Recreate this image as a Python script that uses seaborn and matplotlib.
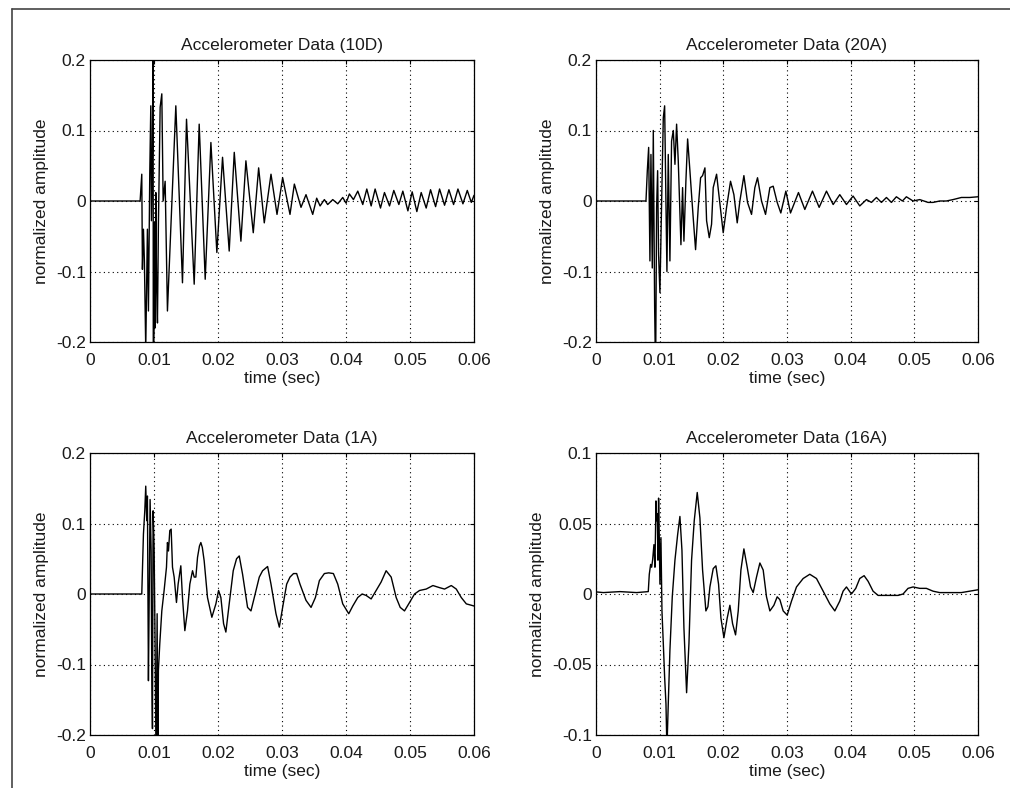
import matplotlib
matplotlib.use("Agg")
import matplotlib.pyplot as plt
from matplotlib.lines import Line2D
from matplotlib.ticker import FuncFormatter, FixedLocator
import seaborn as sns
import pandas as pd

# ---------------- data (time in ms, normalized amplitude) ----------------
titles = ["Accelerometer Data (10D)", "Accelerometer Data (20A)",
          "Accelerometer Data (1A)", "Accelerometer Data (16A)"]

t_10d = [0, 7.83, 8.09, 8.19, 8.35, 8.50, 8.71, 8.97, 9.13, 9.34, 9.50, 9.60, 9.76,
         9.86, 9.89, 10.02, 10.10, 10.18, 10.28, 10.40, 10.54, 10.69, 10.96, 11.22, 11.43,
         11.74, 12.10,
         13.41, 14.45, 15.08, 16.28, 17.06, 18.00, 18.89, 19.82, 20.71, 21.75, 22.54,
         23.58, 24.36, 25.51, 26.35, 27.23, 28.28, 29.22, 30.10, 31.25, 31.93, 32.97,
         33.75, 34.80, 35.42, 35.95, 36.62, 37.14, 37.93, 38.71, 39.49, 40.01, 40.53,
         41.16, 41.84, 42.62, 43.25, 43.93, 44.55, 45.39, 46.01, 46.80, 47.47, 48.26,
         48.88, 49.67, 50.34, 51.07, 51.75, 52.53, 53.21, 54.00, 54.62, 55.40, 56.08,
         56.81, 57.49, 58.27, 58.95, 59.58, 60.00]
a_10d = [0, 0, 0.038, -0.097, -0.040, -0.085, -0.21, -0.040, -0.156, 0.040, 0.135, -0.028,
         0.076, 0.25, -0.25, -0.175, -0.030, -0.180, 0.012, -0.120, -0.173, -0.033, 0.133,
         0.152, 0.0, 0.028, -0.156,
         0.135, -0.116, 0.116, -0.118, 0.109, -0.111, 0.083, -0.073, 0.062, -0.071, 0.069,
         -0.057, 0.057, -0.045, 0.047, -0.031, 0.038, -0.019, 0.033, -0.019, 0.024, -0.009,
         0.009, -0.019, 0.004, -0.007, 0.002, -0.005, 0.002, -0.004, 0.005, -0.003, 0.010,
         0.002, 0.014, -0.005, 0.017, -0.007, 0.017, -0.010, 0.012, -0.007, 0.015, -0.005,
         0.014, -0.014, 0.013, -0.015, 0.012, -0.010, 0.016, -0.008, 0.017, -0.006, 0.016,
         -0.005, 0.017, -0.004, 0.015, -0.002, 0.008]

t_20a = [0, 7.85, 8.06, 8.27, 8.47, 8.63, 8.84, 9.00, 9.21, 9.36, 9.52, 9.68, 9.83, 10.04,
         10.31, 10.57, 10.78, 10.99, 11.14, 11.35, 11.61, 11.87, 12.14, 12.40, 12.66, 12.92,
         13.34, 13.60, 13.81, 14.12, 14.39, 14.75, 15.01, 15.27, 15.64, 16.06, 16.43, 16.74,
         17.11, 17.37, 17.79, 18.15, 18.41, 18.94, 19.30, 19.98, 20.51, 21.13, 21.66, 22.18,
         22.60, 23.23, 23.80, 24.43, 24.95, 25.37, 26.00, 26.63, 27.31, 27.83, 28.46, 29.03,
         29.82, 30.55, 31.80, 32.80, 34.00, 35.05, 36.20, 37.25, 38.29, 39.34, 40.38, 41.43,
         42.48, 43.26, 44.05, 44.83, 45.62, 46.40, 47.18, 48.13, 48.75, 49.80, 50.85, 52.15,
         52.94, 53.98, 55.03, 56.08, 57.39, 58.69, 60.00]
a_20a = [0, 0, 0.043, 0.076, -0.085, 0.066, -0.095, 0.100, -0.150, -0.25, -0.009, 0.043,
         -0.076, -0.130, 0.0, 0.118, 0.135, -0.005, -0.100, 0.066, -0.085, 0.085, 0.100, 0.052,
         0.109, 0.057, -0.062, 0.019, -0.057, 0.028, 0.088, 0.043, 0.009, -0.024, -0.069,
         -0.009, 0.033, 0.036, 0.047, -0.028, -0.052, -0.033, 0.019, 0.038, 0.009, -0.045,
         -0.009, 0.028, 0.009, -0.031, 0.0, 0.036, -0.002, -0.019, 0.019, 0.033, 0.0, -0.019,
         0.019, 0.021, -0.002, -0.017, 0.014, -0.017, 0.012, -0.012, 0.014, -0.009, 0.014,
         -0.005, 0.009, -0.005, 0.007, -0.007, 0.002, -0.002, 0.005, -0.002, 0.005, -0.002,
         0.006, 0.0, 0.006, 0.0, 0.002, -0.002, -0.002, 0.0, 0.0, 0.002, 0.005, 0.005, 0.006]

t_1a = [0, 8.09, 8.35, 8.56, 8.71, 8.87, 8.97, 9.13, 9.23, 9.39, 9.55, 9.65, 9.76, 9.86,
        10.02, 10.17, 10.33, 10.49, 10.59, 10.69, 10.90, 11.22, 11.58, 11.95, 12.10, 12.26,
        12.47, 12.68, 12.89, 13.15, 13.51, 13.77, 14.19, 14.45, 14.82, 15.23, 15.60, 16.02,
        16.28, 16.54, 16.80, 17.10, 17.32, 17.55, 17.84, 18.36, 19.04, 19.67, 20.09, 20.45,
        20.87, 21.23, 21.75, 22.38, 22.90, 23.32, 23.84, 24.62, 25.15, 25.67, 26.45, 26.97,
        27.75, 28.28, 29.06, 29.58, 30.10, 30.73, 31.25, 31.80, 32.29, 32.81, 33.75, 34.54,
        35.22, 35.84, 36.62, 37.30, 38.03, 38.71, 39.49, 40.43, 41.06, 41.84, 42.52, 43.14,
        43.93, 44.71, 45.49, 46.27, 47.06, 47.84, 48.47, 49.14, 49.93, 50.71, 51.49, 52.53,
        53.58, 54.62, 55.40, 56.45, 57.23, 58.01, 58.80, 60.00]
a_1a = [0, 0, 0.085, 0.118, 0.153, 0.104, 0.139, -0.123, -0.024, 0.134, 0.061, -0.108,
        -0.191, 0.118, 0.064, -0.071, -0.25, -0.028, -0.25, -0.108, -0.071, -0.024, 0.005,
        0.038, 0.073, 0.061, 0.090, 0.092, 0.038, 0.024, -0.012, 0.014, 0.040, -0.005, -0.052,
        -0.024, 0.014, 0.033, 0.024, 0.024, 0.052, 0.068, 0.073, 0.066, 0.047, -0.005, -0.033,
        -0.014, 0.005, -0.005, -0.042, -0.054, -0.014, 0.033, 0.050, 0.054, 0.028, -0.019,
        -0.024, -0.005, 0.024, 0.033, 0.039, 0.014, -0.028, -0.047, -0.019, 0.014, 0.024,
        0.029, 0.029, 0.014, -0.009, -0.019, -0.005, 0.019, 0.029, 0.030, 0.029, 0.014,
        -0.014, -0.028, -0.017, -0.005, 0.0, -0.002, -0.007, 0.005, 0.017, 0.033, 0.024,
        -0.005, -0.019, -0.024, -0.012, 0.0, 0.005, 0.007, 0.012, 0.009, 0.007, 0.012, 0.007,
        -0.005, -0.014, -0.017]

t_16a = [0, 1.15, 3.77, 6.38, 8.21, 8.37, 8.58, 8.74, 8.89, 9.10, 9.26, 9.42, 9.52, 9.63,
         9.73, 9.83, 9.94, 10.04, 10.20, 10.36, 10.57, 10.78, 10.99, 11.14, 11.35, 11.61,
         11.98, 12.40, 12.82, 13.18, 13.50, 13.81, 14.23, 14.60, 15.01, 15.43, 15.90, 16.32,
         16.74, 17.26, 17.58, 17.89, 18.41, 18.83, 19.25, 19.62, 20.09, 20.61, 21.03, 21.45,
         21.92, 22.34, 22.76, 23.23, 23.75, 24.27, 24.69, 25.21, 25.74, 26.26, 26.78, 27.31,
         27.94, 28.46, 28.88, 29.40, 30.03, 30.71, 31.49, 32.54, 33.58, 34.63, 35.68, 36.72,
         37.51, 38.29, 38.81, 39.34, 40.12, 40.80, 41.43, 42.11, 42.74, 43.52, 44.31, 46.14,
         47.45, 48.23, 49.01, 49.80, 50.85, 51.89, 52.94, 53.98, 55.03, 56.08, 57.39, 58.69,
         60.00]
a_16a = [0.0015, 0.001, 0.0017, 0.001, 0.0017, 0.014, 0.021, 0.019, 0.024, 0.035, 0.019,
         0.066, 0.052, 0.057, 0.024, 0.068, 0.040, 0.007, 0.040, -0.012, -0.035, -0.059,
         -0.078, -0.11, -0.078, -0.040, -0.002, 0.024, 0.042, 0.055, 0.031, -0.024, -0.070,
         -0.035, 0.024, 0.052, 0.072, 0.054, 0.017, -0.012, -0.009, 0.005, 0.018, 0.020,
         0.007, -0.017, -0.031, -0.017, -0.008, -0.021, -0.029, -0.012, 0.017, 0.032, 0.019,
         0.005, 0.001, 0.012, 0.022, 0.017, -0.002, -0.012, -0.008, -0.002, -0.004, -0.012,
         -0.015, -0.005, 0.005, 0.011, 0.014, 0.011, 0.002, -0.007, -0.012, -0.005, 0.002,
         0.005, 0.0, 0.004, 0.011, 0.013, 0.009, 0.002, -0.001, -0.001, -0.001, 0.0, 0.004,
         0.005, 0.004, 0.004, 0.002, 0.001, 0.001, 0.001, 0.001, 0.002, 0.003]

series_t = [t_10d, t_20a, t_1a, t_16a]
series_a = [a_10d, a_20a, a_1a, a_16a]
y_limits = [(-0.2, 0.2), (-0.2, 0.2), (-0.2, 0.2), (-0.1, 0.1)]
y_ticks = [[-0.2, -0.1, 0, 0.1, 0.2], [-0.2, -0.1, 0, 0.1, 0.2],
           [-0.2, -0.1, 0, 0.1, 0.2], [-0.1, -0.05, 0, 0.05, 0.1]]
x_ticks = [0, 0.01, 0.02, 0.03, 0.04, 0.05, 0.06]

# ---------------- style ----------------
sns.set_theme(style="white")
plt.rcParams["font.family"] = ["Liberation Sans", "DejaVu Sans"]
plt.rcParams["axes.unicode_minus"] = False

fig = plt.figure(figsize=(10.10, 7.88), dpi=100)
W, H = 1010, 788
boxes = [(90, 60, 474, 342), (596, 60, 978, 342),
         (90, 453, 474, 735), (596, 453, 978, 735)]

fmt = FuncFormatter(lambda v, p: "%g" % round(v, 4))
txt_color = "#1a1a1a"

for i, (x0, y0, x1, y1) in enumerate(boxes):
    ax = fig.add_axes([x0 / W, 1 - y1 / H, (x1 - x0) / W, (y1 - y0) / H])
    df = pd.DataFrame({"time": [v / 1000.0 for v in series_t[i]],
                       "amp": series_a[i]})
    sns.lineplot(data=df, x="time", y="amp", ax=ax, color="black", lw=1.0,
                 estimator=None, sort=False)
    ax.set_xlim(0, 0.06)
    ax.set_ylim(*y_limits[i])
    ax.xaxis.set_major_locator(FixedLocator(x_ticks))
    ax.yaxis.set_major_locator(FixedLocator(y_ticks[i]))
    ax.xaxis.set_major_formatter(fmt)
    ax.yaxis.set_major_formatter(fmt)
    ax.grid(True, color="black", linestyle=(0, (1, 3)), linewidth=0.8)
    ax.set_axisbelow(True)
    ax.tick_params(direction="in", length=3, width=0.8, colors="black",
                   labelcolor=txt_color, top=True, right=True, labelsize=12.5)
    ax.tick_params(axis="x", pad=8)
    ax.tick_params(axis="y", pad=3)
    for s in ax.spines.values():
        s.set_color("black")
        s.set_linewidth(0.9)
    ax.set_title(titles[i], fontsize=12.5, pad=7, color=txt_color)
    ax.set_xlabel("time (sec)", fontsize=12.5, labelpad=2, color=txt_color)
    ax.set_ylabel("normalized amplitude", fontsize=12.5, labelpad=5, color=txt_color)

# screenshot frame lines
fig.add_artist(Line2D([12 / W, 1.0], [1 - 9 / H, 1 - 9 / H], color="#444444", lw=1.2))
fig.add_artist(Line2D([12 / W, 12 / W], [0.0, 1 - 9 / H], color="#444444", lw=1.2))

fig.savefig("out.png", dpi=100)
